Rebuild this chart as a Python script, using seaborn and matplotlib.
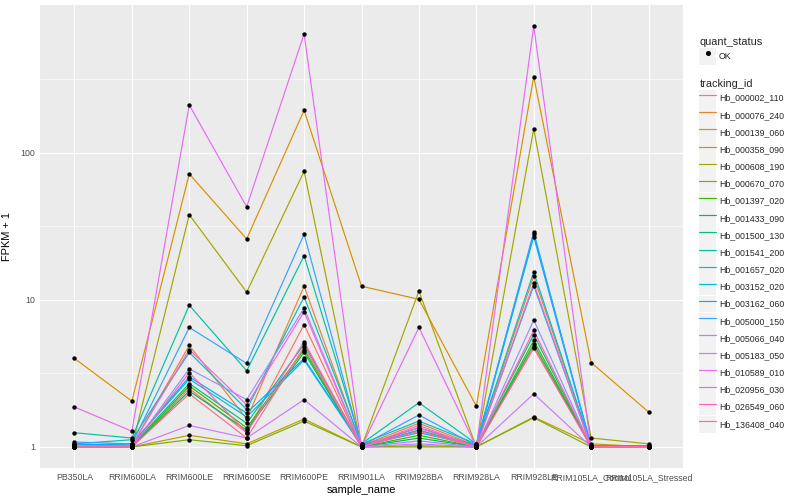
import numpy as np
import pandas as pd
import seaborn as sns
import matplotlib.pyplot as plt
from matplotlib.patches import Patch
from matplotlib.lines import Line2D
from matplotlib.ticker import FixedLocator, NullFormatter

# sample order on the x axis
samples = ["PB350LA", "RRIM600LA", "RRIM600LE", "RRIM600SE", "RRIM600PE", "RRIM901LA",
           "RRIM928BA", "RRIM928LA", "RRIM928LE", "RRIM105LA_Control", "RRIM105LA_Stressed"]

tracking_ids = ["Hb_000002_110", "Hb_000076_240", "Hb_000139_060", "Hb_000358_090",
                "Hb_000608_190", "Hb_000670_070", "Hb_001397_020", "Hb_001433_090",
                "Hb_001500_130", "Hb_001541_200", "Hb_001657_020", "Hb_003152_020",
                "Hb_003162_060", "Hb_005000_150", "Hb_005066_040", "Hb_005183_050",
                "Hb_010589_010", "Hb_020956_030", "Hb_026549_060", "Hb_136408_040"]

# FPKM + 1, one row per tracking id
fpkm_plus1 = [
    [1.02, 1.00, 2.5, 1.25, 6.8, 1.00, 1.30, 1.00, 4.8, 1.00, 1.00],
    [1.05, 1.02, 4.9, 1.55, 12.4, 1.02, 1.45, 1.02, 14.5, 1.02, 1.00],
    [4.0, 2.05, 72, 26, 195, 12.4, 10.1, 1.9, 330, 3.75, 1.73],
    [1.00, 1.00, 1.20, 1.05, 1.55, 1.00, 1.02, 1.00, 1.60, 1.05, 1.00],
    [1.00, 1.00, 38, 11.3, 75, 1.00, 11.5, 1.00, 146, 1.15, 1.05],
    [1.00, 1.00, 1.12, 1.02, 1.50, 1.00, 1.00, 1.00, 1.58, 1.00, 1.00],
    [1.00, 1.00, 2.6, 1.35, 4.6, 1.00, 1.20, 1.00, 5.3, 1.00, 1.00],
    [1.00, 1.00, 2.4, 1.30, 4.4, 1.00, 1.15, 1.00, 5.0, 1.00, 1.00],
    [1.02, 1.02, 2.7, 1.45, 5.0, 1.02, 1.35, 1.02, 5.8, 1.00, 1.00],
    [1.25, 1.15, 9.2, 3.3, 20, 1.05, 2.0, 1.05, 28, 1.02, 1.00],
    [1.05, 1.12, 4.4, 1.80, 10.5, 1.05, 1.50, 1.05, 15.5, 1.02, 1.02],
    [1.03, 1.05, 2.9, 1.60, 3.9, 1.02, 1.30, 1.02, 12.5, 1.00, 1.00],
    [1.03, 1.05, 3.0, 1.70, 4.0, 1.02, 1.25, 1.02, 27, 1.00, 1.02],
    [1.08, 1.05, 6.5, 3.7, 28, 1.02, 1.65, 1.02, 29, 1.00, 1.00],
    [1.02, 1.00, 3.4, 2.1, 8.8, 1.00, 1.10, 1.00, 7.3, 1.00, 1.00],
    [1.00, 1.00, 1.40, 1.15, 2.1, 1.00, 1.05, 1.00, 2.3, 1.00, 1.00],
    [1.87, 1.28, 212, 43, 645, 1.00, 6.5, 1.00, 730, 1.00, 1.00],
    [1.02, 1.02, 4.6, 1.93, 8.3, 1.00, 1.40, 1.00, 13.0, 1.00, 1.00],
    [1.00, 1.00, 3.2, 1.25, 5.2, 1.00, 1.35, 1.00, 6.2, 1.00, 1.00],
    [1.00, 1.00, 2.3, 1.15, 4.8, 1.00, 1.28, 1.00, 4.7, 1.00, 1.00],
]

# ggplot default hue palette for 20 levels
hue_colors = ["#F8766D", "#EA8331", "#D89000", "#C09B00", "#A3A500", "#7CAE00", "#39B600",
              "#00BB4E", "#00BF7D", "#00C1A3", "#00BFC4", "#00BAE0", "#00B0F6", "#35A2FF",
              "#9590FF", "#C77CFF", "#E76BF3", "#FA62DB", "#FF62BC", "#FF6C90"]

rows = []
for tid, vals in zip(tracking_ids, fpkm_plus1):
    for s, v in zip(samples, vals):
        rows.append({"tracking_id": tid, "sample_name": s, "fpkm": v, "quant_status": "OK"})
df = pd.DataFrame(rows)

sns.set_theme(style="darkgrid", rc={
    "axes.facecolor": "#EBEBEB",
    "grid.color": "white",
    "axes.edgecolor": "#EBEBEB",
})
plt.rcParams["font.family"] = ["Liberation Sans", "DejaVu Sans"]

fig = plt.figure(figsize=(8, 5), dpi=100)
ax = fig.add_axes([40 / 800, 1 - 468 / 500, (683 - 40) / 800, (468 - 5) / 500])

palette = dict(zip(tracking_ids, hue_colors))
sns.lineplot(data=df, x="sample_name", y="fpkm", hue="tracking_id", palette=palette,
             sort=False, estimator=None, linewidth=0.85, legend=False, ax=ax)
sns.scatterplot(data=df, x="sample_name", y="fpkm", color="black", marker="o", s=10,
                linewidth=0, legend=False, ax=ax, zorder=5)

ax.set_yscale("log")
lo, hi = np.log10(df["fpkm"].min()), np.log10(df["fpkm"].max())
pad = 0.05 * (hi - lo)
ax.set_ylim(10 ** (lo - pad), 10 ** (hi + pad))
ax.set_xlim(-0.6, len(samples) - 0.4)

ax.yaxis.set_major_locator(FixedLocator([1, 10, 100]))
ax.set_yticklabels(["1", "10", "100"])
ax.yaxis.set_minor_locator(FixedLocator([10 ** 0.5, 10 ** 1.5, 10 ** 2.5]))
ax.yaxis.set_minor_formatter(NullFormatter())
ax.grid(which="major", color="white", linewidth=0.8)
ax.grid(which="minor", axis="y", color="white", linewidth=0.4)
ax.tick_params(axis="both", which="major", length=2, width=0.5, color="#333333",
               labelsize=6.3, labelcolor="#4D4D4D", pad=1.5)
ax.tick_params(axis="y", which="minor", length=0)
for sp in ax.spines.values():
    sp.set_visible(False)

ax.set_xlabel("sample_name", fontsize=7.9, color="black", labelpad=2)
ax.set_ylabel("FPKM + 1", fontsize=7.9, color="black", labelpad=6)

# legends, styled like ggplot keys
key_bg = "#F2F2F2"
leg_kw = dict(loc="upper left", frameon=False, borderpad=0, fontsize=6.3,
              title_fontsize=7.9, handlelength=1.94, handleheight=2.61,
              handletextpad=0.3, labelspacing=0.02, alignment="left")

qs_handles = [(Patch(facecolor=key_bg, edgecolor="none"),
               Line2D([], [], marker="o", color="black", linestyle="none", markersize=2.6))]
leg1 = fig.legend(qs_handles, ["OK"], title="quant_status",
                  bbox_to_anchor=(695 / 800, 1 - 33 / 500), **leg_kw)

tid_handles = [(Patch(facecolor=key_bg, edgecolor="none"),
                Line2D([], [], color=c, linewidth=0.85)) for c in hue_colors]
leg2 = fig.legend(tid_handles, tracking_ids, title="tracking_id",
                  bbox_to_anchor=(695 / 800, 1 - 75 / 500), **leg_kw)

fig.savefig("out.png", dpi=100)
